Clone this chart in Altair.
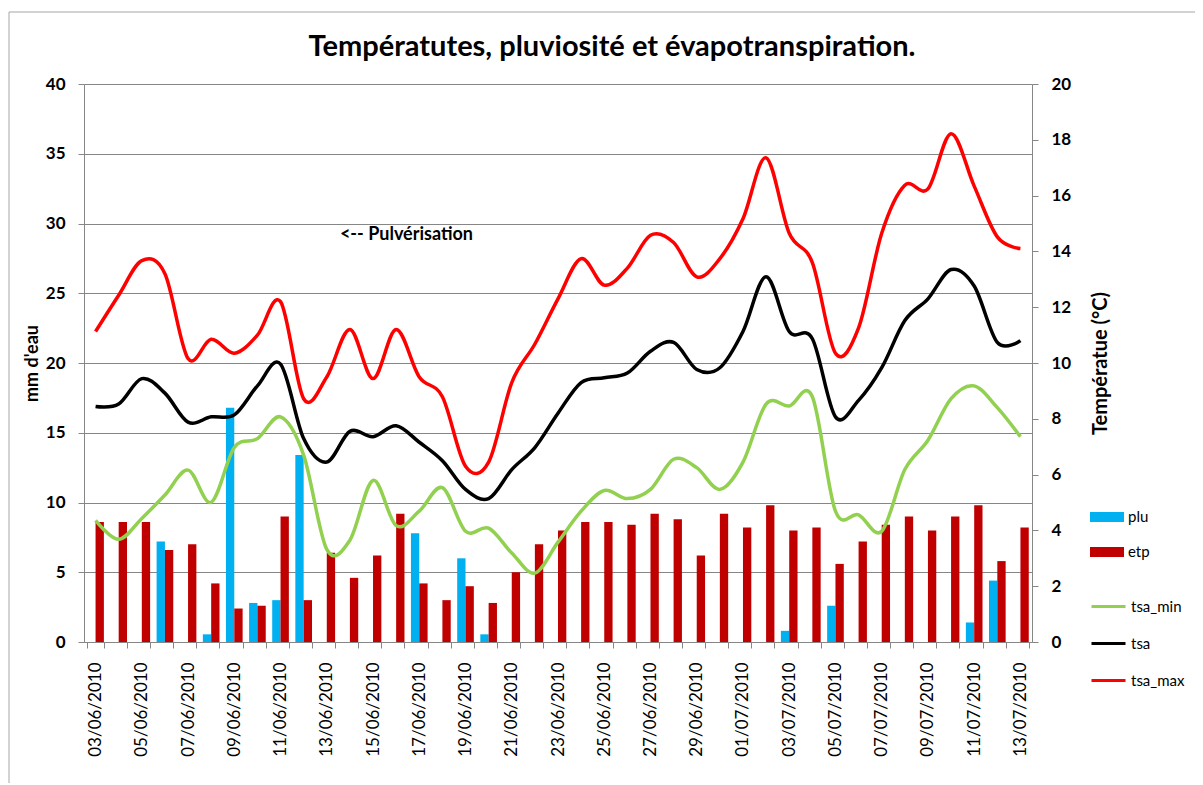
import altair as alt
import pandas as pd

dates = [
    "03/06/2010", "04/06/2010", "05/06/2010", "06/06/2010", "07/06/2010", "08/06/2010",
    "09/06/2010", "10/06/2010", "11/06/2010", "12/06/2010", "13/06/2010", "14/06/2010",
    "15/06/2010", "16/06/2010", "17/06/2010", "18/06/2010", "19/06/2010", "20/06/2010",
    "21/06/2010", "22/06/2010", "23/06/2010", "24/06/2010", "25/06/2010", "26/06/2010",
    "27/06/2010", "28/06/2010", "29/06/2010", "30/06/2010", "01/07/2010", "02/07/2010",
    "03/07/2010", "04/07/2010", "05/07/2010", "06/07/2010", "07/07/2010", "08/07/2010",
    "09/07/2010", "10/07/2010", "11/07/2010", "12/07/2010", "13/07/2010",
]

plu = [0, 0, 0, 7.2, 0, 0.55, 16.8, 2.8, 3.0, 13.4,
       0, 0, 0, 0, 7.8, 0, 6.0, 0.55, 0, 0,
       0, 0, 0, 0, 0, 0, 0, 0, 0, 0,
       0.8, 0, 2.6, 0, 0, 0, 0, 0, 1.4, 4.4, 0]

etp = [8.6, 8.6, 8.6, 6.6, 7.0, 4.2, 2.4, 2.6, 9.0, 3.0,
       6.4, 4.6, 6.2, 9.2, 4.2, 3.0, 4.0, 2.8, 5.0, 7.0,
       8.0, 8.6, 8.6, 8.4, 9.2, 8.8, 6.2, 9.2, 8.2, 9.8,
       8.0, 8.2, 5.6, 7.2, 8.4, 9.0, 8.0, 9.0, 9.8, 5.8, 8.2]

tsa_max = [11.13, 12.43, 13.67, 13.2, 10.16, 10.85, 10.35, 11.0, 12.2, 8.72,
           9.5, 11.2, 9.44, 11.2, 9.5, 8.79, 6.3, 6.45, 9.3, 10.68,
           12.3, 13.74, 12.79, 13.4, 14.58, 14.32, 13.09, 13.74, 15.17, 17.35,
           14.65, 13.6, 10.35, 11.26, 14.65, 16.37, 16.24, 18.22, 16.34, 14.52, 14.1]

tsa = [8.44, 8.53, 9.44, 8.92, 7.88, 8.07, 8.14, 9.18, 9.96, 7.29,
       6.45, 7.55, 7.36, 7.75, 7.16, 6.5, 5.47, 5.14, 6.18, 6.97,
       8.2, 9.3, 9.47, 9.64, 10.42, 10.74, 9.77, 9.83, 11.13, 13.09,
       11.13, 10.87, 8.07, 8.66, 9.83, 11.52, 12.3, 13.35, 12.76, 10.74, 10.8]

tsa_min = [4.36, 3.68, 4.43, 5.27, 6.16, 5.01, 6.97, 7.29, 8.07, 6.7,
           3.32, 3.65, 5.79, 4.17, 4.69, 5.53, 3.97, 4.08, 3.19, 2.47,
           3.58, 4.69, 5.43, 5.14, 5.47, 6.55, 6.25, 5.47, 6.45, 8.53,
           8.46, 8.79, 4.69, 4.56, 3.97, 6.18, 7.23, 8.72, 9.18, 8.4, 7.36]

bar_series = ["plu", "etp"]
bar_colors = ["#00B0F0", "#C00000"]
line_series = ["tsa_min", "tsa", "tsa_max"]
line_colors = ["#92D050", "#000000", "#FF0000"]

annotation_text = ["<-- Pulvérisation"]
annotation_date = ["14/06/2010"]
annotation_value = [29.2]

FONT = "Lato"
GRID = "#868686"

bars_df = pd.DataFrame(
    [{"date": d, "series": "plu", "value": v} for d, v in zip(dates, plu)]
    + [{"date": d, "series": "etp", "value": v} for d, v in zip(dates, etp)]
)
lines_df = pd.DataFrame(
    [{"date": d, "series": "tsa_min", "value": v} for d, v in zip(dates, tsa_min)]
    + [{"date": d, "series": "tsa", "value": v} for d, v in zip(dates, tsa)]
    + [{"date": d, "series": "tsa_max", "value": v} for d, v in zip(dates, tsa_max)]
)
ann_df = pd.DataFrame({"date": annotation_date, "value": annotation_value, "text": annotation_text})

x_enc = alt.X(
    "date:N",
    sort=dates,
    scale=alt.Scale(domain=dates, paddingInner=0.28, paddingOuter=0.14),
    axis=alt.Axis(
        title=None,
        labelAngle=-90,
        labelFontSize=17,
        labelFont=FONT,
        labelColor="black",
        labelPadding=14,
        tickBand="extent",
        tickSize=6,
        tickColor=GRID,
        domainColor=GRID,
        grid=False,
        labelExpr="toNumber(substring(datum.value, 0, 2)) % 2 == 1 ? datum.value : ''",
        labelOverlap=False,
    ),
)

y_mm = alt.Y(
    "value:Q",
    scale=alt.Scale(domain=[0, 40], nice=False),
    axis=alt.Axis(
        title="mm d'eau",
        values=list(range(0, 41, 5)),
        grid=True,
        gridColor=GRID,
        domainColor=GRID,
        tickColor=GRID,
        tickSize=6,
        labelFontSize=17,
        labelFont=FONT,
        labelFontWeight="bold",
        labelColor="black",
        labelPadding=13,
        titleFont=FONT,
        titleFontSize=18,
        titleFontWeight="bold",
        titleColor="black",
        titlePadding=4,
    ),
)

bars = alt.Chart(bars_df).mark_bar().encode(
    x=x_enc,
    xOffset=alt.XOffset("series:N", sort=bar_series, scale=alt.Scale(domain=bar_series, paddingInner=0)),
    y=y_mm,
    fill=alt.Fill(
        "series:N",
        scale=alt.Scale(domain=bar_series, range=bar_colors),
        legend=alt.Legend(
            title=None,
            orient="none",
            legendX=1006,
            legendY=416,
            symbolType="M-1,-0.3H1V0.3H-1Z",
            symbolSize=1156,
            symbolStrokeWidth=0,
            rowPadding=10,
            labelFont=FONT,
            labelFontSize=15,
            labelColor="black",
            labelOffset=4,
            padding=0,
        ),
    ),
)

ann = alt.Chart(ann_df).mark_text(
    align="left", baseline="middle", dx=-10, font=FONT, fontSize=18, fontWeight="bold", color="black"
).encode(
    x=alt.X("date:N", sort=dates),
    y=alt.Y("value:Q"),
    text="text:N",
)

lines = alt.Chart(lines_df).mark_line(interpolate="cardinal", strokeWidth=3.5).encode(
    x=x_enc,
    y=alt.Y(
        "value:Q",
        scale=alt.Scale(domain=[0, 20], nice=False),
        axis=alt.Axis(
            title="Températue  (°C)",
            orient="right",
            values=list(range(0, 21, 2)),
            grid=False,
            domainColor=GRID,
            tickColor=GRID,
            tickSize=6,
            labelFontSize=17,
            labelFont=FONT,
            labelFontWeight="bold",
            labelColor="black",
            labelPadding=13,
            titleFont=FONT,
            titleFontSize=20,
            titleFontWeight="bold",
            titleColor="black",
            titleAngle=270,
            titlePadding=40,
        ),
    ),
    stroke=alt.Stroke(
        "series:N",
        sort=line_series,
        scale=alt.Scale(domain=line_series, range=line_colors),
        legend=alt.Legend(
            title=None,
            orient="none",
            legendX=1006,
            legendY=504,
            symbolType="stroke",
            symbolSize=1156,
            symbolStrokeWidth=3,
            rowPadding=10,
            labelFont=FONT,
            labelFontSize=15,
            labelColor="black",
            labelOffset=4,
            padding=0,
        ),
    ),
    order=alt.Order("series:N"),
)

frame_df = pd.DataFrame({"k": [0]})
frame_left = alt.Chart(frame_df).mark_rule(color="#A6A6A6", strokeWidth=1).encode(
    x=alt.value(-75), y=alt.value(-72), y2=alt.value(699)
)
frame_top = alt.Chart(frame_df).mark_rule(color="#A6A6A6", strokeWidth=1).encode(
    x=alt.value(-75), x2=alt.value(1120), y=alt.value(-72)
)

left_layer = alt.layer(bars, ann)

chart = (
    alt.layer(left_layer, lines, frame_left, frame_top)
    .resolve_scale(y="independent", fill="independent", stroke="independent")
    .properties(
        width=948,
        height=558,
        autosize="none",
        padding={"left": 76, "top": 76, "right": 163, "bottom": 141},
        title=alt.TitleParams(
            text="Températutes, pluviosité et évapotranspiration.",
            font=FONT,
            fontSize=29,
            fontWeight="bold",
            color="black",
            anchor="middle",
            dx=54,
            offset=0,
            dy=50,
        ),
    )
    .configure_view(strokeWidth=0)
    .configure(background="white")
)

chart.save("out.html", embed_options={"renderer": "svg", "actions": False})
